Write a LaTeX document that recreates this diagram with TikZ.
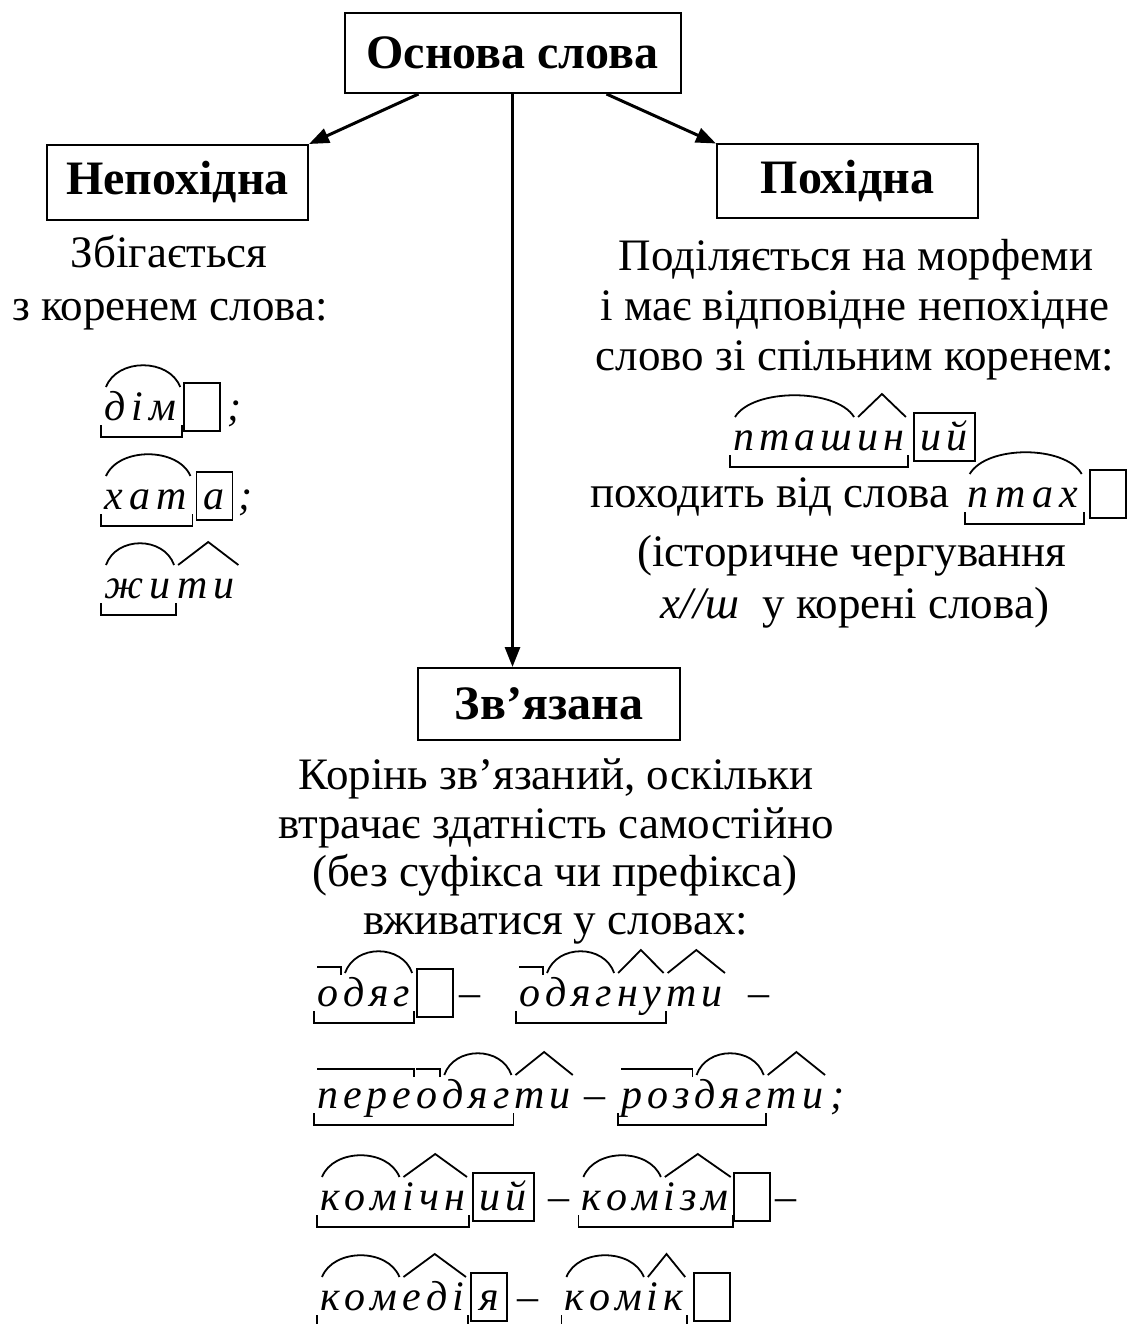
\documentclass[tikz,border=0pt]{standalone}
\usepackage{fontspec}
\setmainfont{Liberation Serif}
\usetikzlibrary{arrows.meta,calc}
\def\lspc#1{\ifx#1\relax\else#1\kern5pt\expandafter\lspc\fi}
\def\lspw#1{\ifx#1\relax\else#1\kern6.5pt\expandafter\lspw\fi}
\newcommand\lw[1]{\lspc#1\relax}
\newcommand\lww[1]{\lspw#1\relax}
\newcommand\lend[1]{\kern5pt\lspc#1\relax}
\newcommand\mkroot[1]{%
  \path ([xshift=2pt]#1.north west) coordinate (ta) ([xshift=-3pt]#1.north east) coordinate (tb);
  \draw[mk] (ta) .. controls ($(ta)!0.15!(tb)+(0,-29)$) and ($(ta)!0.85!(tb)+(0,-29)$) .. (tb);}
\newcommand\mksuf[1]{\draw[mk] ([xshift=1pt]#1.north west) -- ([yshift=23pt,xshift=-1pt]#1.north) -- ([xshift=-3pt]#1.north east);}
\newcommand\mkpre[1]{\draw[mk] ([yshift=6pt]#1.north west) -- ([yshift=6pt,xshift=-2pt]#1.north east) -- ([yshift=-2pt,xshift=-2pt]#1.north east);}
\newcommand\mkstem[2]{\draw[mk] ([xshift=-3pt]#1.south west) -- ++(0,12) -| ([xshift=-1pt]#2.south east);}
\begin{document}
\begin{tikzpicture}[x=1pt,y=-1pt,
  mk/.style={line width=1.8pt},
  hbox/.style={draw, line width=2pt, inner sep=0pt, font=\bfseries\fontsize{48}{50}\selectfont},
  txt/.style={inner sep=0pt, anchor=base, font=\fontsize{45}{50}\selectfont},
  seg/.style={inner sep=0pt, outer sep=0pt, anchor=base west, text height=33pt, text depth=5pt, font=\itshape\fontsize{42}{42}\selectfont},
  endg/.style={draw, line width=1.8pt, inner xsep=2pt, inner ysep=0pt, outer sep=0pt, anchor=base west, text height=37pt, text depth=11pt, minimum width=36pt, font=\itshape\fontsize{42}{42}\selectfont},
  pn/.style={inner sep=0pt, anchor=base west, font=\itshape\fontsize{42}{42}\selectfont},
  dsh/.style={inner sep=0pt, anchor=base west, font=\fontsize{42}{42}\selectfont},
  arr/.style={line width=3pt, -{Triangle[length=20pt,width=15pt]}}]
\useasboundingbox (0,0) rectangle (1131,1324);
\clip (0,0) rectangle (1131,1324);

% headings
\node[hbox, minimum width=336pt, minimum height=80pt] (top) at (512.5,53) {Основа слова};
\node[hbox, minimum width=261pt, minimum height=75pt] (nep) at (177.5,182.5) {Непохідна};
\node[hbox, minimum width=261pt, minimum height=74pt] (poh) at (847.5,181.5) {Похідна};
\node[hbox, minimum width=262pt, minimum height=72pt] (zv) at (549,704) {Зв’язана};

\draw[arr] ([xshift=75pt]top.south west) -- (nep.north east);
\draw[arr] ([xshift=-75pt]top.south east) -- (poh.north west);
\draw[arr] (top.south) -- (top.south |- zv.north);

% left text
\node[txt] (l1) at (169,268) {Збігається};
\node[txt] (l2) at (170,320) {з коренем слова:};

% left examples
\node[seg] (d1) at (104,420) {\lww{дім}};
\node[endg] (d1e) at ([xshift=1pt]d1.base east) {};
\node[pn] (d1s) at ([xshift=7pt]d1e.base east) {;};
\mkroot{d1} \mkstem{d1}{d1}

\node[seg] (h1) at (104,509) {\lww{хат}};
\node[endg] (h1e) at ([xshift=3pt]h1.base east) {\lend{а}};
\node[pn] (h1s) at ([xshift=6pt]h1e.base east) {;};
\mkroot{h1} \mkstem{h1}{h1}

\node[seg] (j1) at (104,598) {\lww{жи}};
\node[seg] (j2) at (j1.base east) {\lww{ти}};
\mkroot{j1} \mksuf{j2} \mkstem{j1}{j1}

% right text
\node[txt] (r1) at (856,270) {Поділяється на морфеми};
\node[txt] (r2) at (855,320) {і має відповідне непохідне};
\node[txt] (r3) at (855,370) {слово зі спільним коренем:};

\node[seg] (p1) at (733,450) {\lw{пташ}};
\node[seg] (p2) at (p1.base east) {\lw{ин}};
\node[endg] (p3) at ([xshift=5pt]p2.base east) {\lend{ий}};
\mkroot{p1} \mksuf{p2} \mkstem{p1}{p2}

\node[txt, anchor=base west] (pt0) at (590,507) {походить від слова};
\node[seg] (pt1) at ([xshift=18pt]pt0.base east) {\lww{птах}};
\node[endg] (pt2) at ([xshift=5pt]pt1.base east) {};
\mkroot{pt1} \mkstem{pt1}{pt1}

\node[txt] (r4) at (852,566) {(історичне чергування};
\node[txt] (r5) at (855,618) {{\itshape х//ш}\ \ у корені слова)};

% middle text
\node[txt] (m1) at (556,789) {Корінь зв’язаний, оскільки};
\node[txt] (m2) at (556,838) {втрачає здатність самостійно};
\node[txt] (m3) at (555,886) {(без суфікса чи префікса)};
\node[txt] (m4) at (556,934) {вживатися у словах:};

% row 1
\node[seg] (o1a) at (317,1006) {\lw{о}};
\node[seg] (o1b) at (o1a.base east) {\lw{дяг}};
\node[endg] (o1e) at ([xshift=2pt]o1b.base east) {};
\node[dsh] (o1d) at ([xshift=6pt]o1e.base east) {–};
\mkpre{o1a} \mkroot{o1b} \mkstem{o1a}{o1b}

\node[seg] (o2a) at (519,1006) {\lw{о}};
\node[seg] (o2b) at (o2a.base east) {\lw{дяг}};
\node[seg] (o2c) at (o2b.base east) {\lw{ну}};
\node[seg] (o2d) at (o2c.base east) {\lw{ти}};
\node[dsh] (o2x) at ([xshift=20pt]o2d.base east) {–};
\mkpre{o2a} \mkroot{o2b} \mksuf{o2c} \mksuf{o2d} \mkstem{o2a}{o2c}

% row 2
\node[seg] (q1) at (317,1108) {\lw{пере}};
\node[seg] (q2) at (q1.base east) {\lw{о}};
\node[seg] (q3) at (q2.base east) {\lw{дяг}};
\node[seg] (q4) at (q3.base east) {\lw{ти}};
\node[dsh] (q5) at ([xshift=9pt]q4.base east) {–};
\mkpre{q1} \mkpre{q2} \mkroot{q3} \mksuf{q4} \mkstem{q1}{q3}

\node[seg] (s1) at ([xshift=15pt]q5.base east) {\lw{роз}};
\node[seg] (s2) at (s1.base east) {\lw{дяг}};
\node[seg] (s3) at (s2.base east) {\lw{ти}};
\node[pn] (s4) at ([xshift=2pt]s3.base east) {;};
\mkpre{s1} \mkroot{s2} \mksuf{s3} \mkstem{s1}{s2}

% row 3
\node[seg] (k1) at (320,1210) {\lw{ком}};
\node[seg] (k2) at (k1.base east) {\lw{ічн}};
\node[endg] (k3) at ([xshift=3pt]k2.base east) {\lend{ий}};
\node[dsh] (k4) at ([xshift=14pt]k3.base east) {–};
\mkroot{k1} \mksuf{k2} \mkstem{k1}{k2}

\node[seg] (n1) at ([xshift=12pt]k4.base east) {\lw{ком}};
\node[seg] (n2) at (n1.base east) {\lw{ізм}};
\node[endg] (n3) at (n2.base east) {};
\node[dsh] (n4) at ([xshift=6pt]n3.base east) {–};
\mkroot{n1} \mksuf{n2} \mkstem{n1}{n2}

% row 4
\node[seg] (c1) at (320,1310) {\lw{ком}};
\node[seg] (c2) at (c1.base east) {\lw{еді}};
\node[endg] (c3) at ([xshift=2pt]c2.base east) {\lend{я}};
\node[dsh] (c4) at ([xshift=10pt]c3.base east) {–};
\mkroot{c1} \mksuf{c2} \mkstem{c1}{c2}

\node[seg] (c5) at ([xshift=26pt]c4.base east) {\lw{ком}};
\node[seg] (c6) at (c5.base east) {\lw{ік}};
\node[endg] (c7) at ([xshift=6pt]c6.base east) {};
\mkroot{c5} \mksuf{c6} \mkstem{c5}{c6}
\end{tikzpicture}
\end{document}
